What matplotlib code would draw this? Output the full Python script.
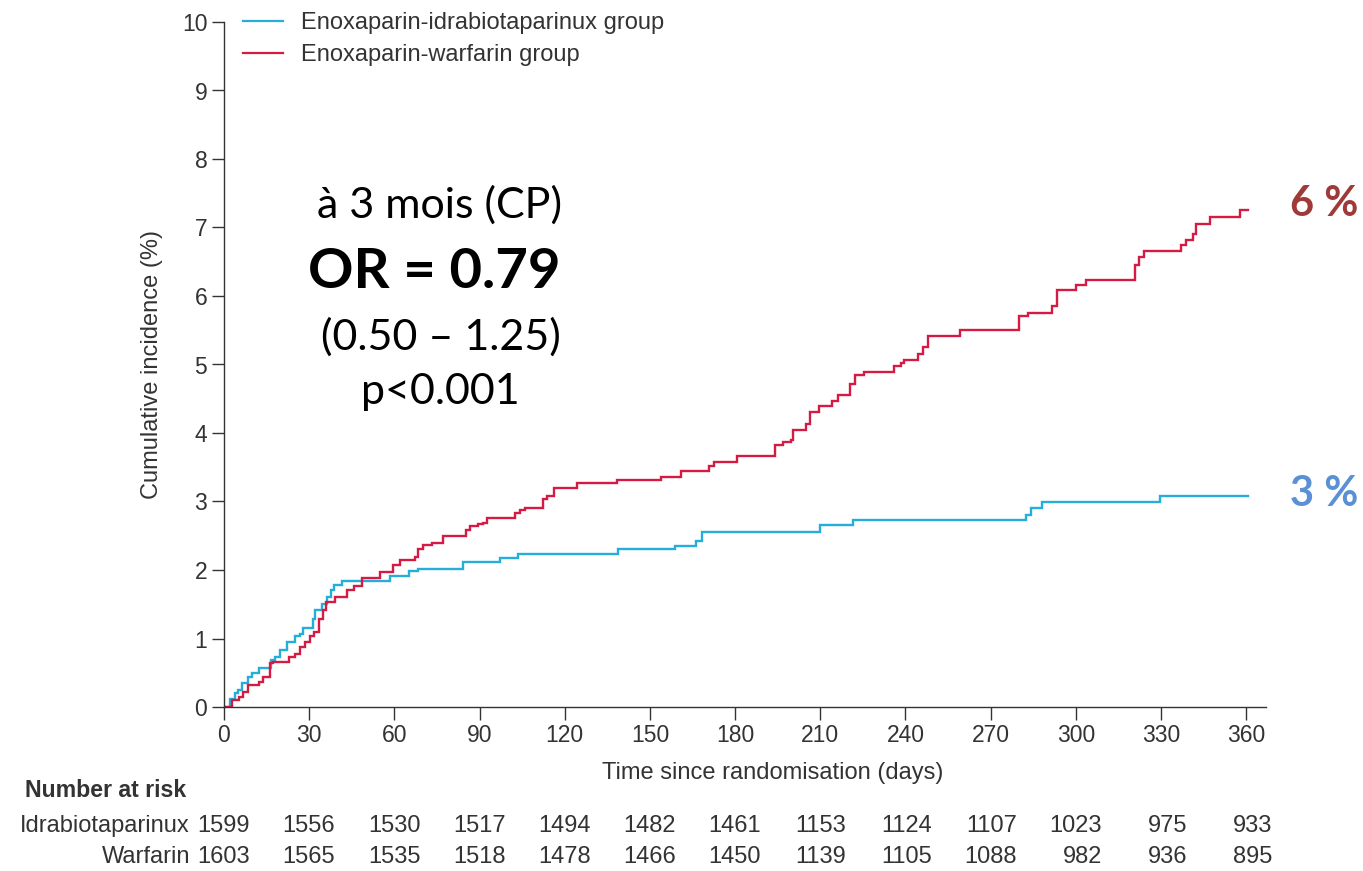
import matplotlib
matplotlib.use('Agg')
import matplotlib.pyplot as plt
from matplotlib import font_manager as fm
from matplotlib.lines import Line2D
import matplotlib.transforms as mtransforms

# ---------------- data ----------------
idra_days = [0, 2.1, 3.9, 5.0, 6.5, 8.6, 9.7, 12.4, 16.4, 18.0, 19.7, 22.3, 25.0, 26.8, 27.7,
             31.5, 32.0, 34.4, 36.2, 37.6, 38.7, 41.4, 58.5, 65.3, 68.4, 84.3, 97.2, 103.6,
             138.7, 159.0, 166.4, 168.3, 210.0, 221.6, 282.4, 284.2, 288.0, 329.6, 360.6]
idra_inc = [0, 0.12, 0.20, 0.25, 0.35, 0.44, 0.49, 0.57, 0.68, 0.73, 0.83, 0.95, 1.04, 1.07, 1.16,
            1.28, 1.42, 1.51, 1.61, 1.71, 1.78, 1.84, 1.91, 1.98, 2.01, 2.11, 2.17, 2.23,
            2.31, 2.35, 2.42, 2.55, 2.65, 2.73, 2.80, 2.91, 2.99, 3.08, 3.08]

warf_days = [0, 2.7, 5.4, 6.8, 8.6, 12.4, 13.8, 16.2, 17.4, 23.0, 25.0, 26.8, 28.5, 30.3, 31.7,
             33.6, 34.7, 35.9, 39.1, 43.2, 45.8, 48.7, 54.9, 59.6, 62.0, 67.3, 68.4, 70.0, 73.4,
             77.0, 85.4, 86.6, 89.3, 91.3, 92.5, 102.5, 104.2, 106.0, 112.4, 113.6, 116.2, 124.2,
             138.3, 153.8, 160.9, 170.9, 172.5, 180.6, 194.0, 197.0, 199.8, 200.5, 204.9, 206.3,
             209.5, 214.3, 216.3, 220.4, 222.2, 225.4, 235.9, 238.3, 239.4, 244.4, 246.2, 248.0,
             259.2, 280.0, 283.0, 291.7, 293.3, 300.2, 303.7, 321.0, 322.2, 324.1, 337.0, 338.8,
             341.3, 342.5, 347.4, 358.0, 360.6]
warf_inc = [0, 0.10, 0.15, 0.22, 0.32, 0.37, 0.44, 0.64, 0.66, 0.73, 0.77, 0.88, 0.95, 1.03, 1.10,
            1.29, 1.42, 1.54, 1.61, 1.71, 1.76, 1.88, 1.97, 2.07, 2.14, 2.19, 2.30, 2.36, 2.40,
            2.49, 2.59, 2.64, 2.67, 2.69, 2.76, 2.83, 2.87, 2.91, 3.03, 3.08, 3.19, 3.27,
            3.31, 3.36, 3.45, 3.52, 3.57, 3.67, 3.82, 3.87, 3.90, 4.05, 4.13, 4.30,
            4.40, 4.46, 4.56, 4.71, 4.84, 4.89, 4.98, 5.02, 5.07, 5.16, 5.25, 5.42,
            5.50, 5.71, 5.75, 5.86, 6.09, 6.16, 6.24, 6.45, 6.57, 6.65, 6.74, 6.82,
            6.90, 7.05, 7.15, 7.26, 7.26]

series_labels = ['Enoxaparin-idrabiotaparinux group', 'Enoxaparin-warfarin group']
x_ticks = [0, 30, 60, 90, 120, 150, 180, 210, 240, 270, 300, 330, 360]
y_ticks = [0, 1, 2, 3, 4, 5, 6, 7, 8, 9, 10]
risk_row_labels = ['Idrabiotaparinux', 'Warfarin']
risk_idra = [1599, 1556, 1530, 1517, 1494, 1482, 1461, 1153, 1124, 1107, 1023, 975, 933]
risk_warf = [1603, 1565, 1535, 1518, 1478, 1466, 1450, 1139, 1105, 1088, 982, 936, 895]
end_labels = ['3 %', '6 %']
annot_lines = ['à 3 mois (CP)', 'OR = 0.79', '(0.50 – 1.25)', 'p<0.001']

# ---------------- fonts ----------------
names = {f.name for f in fm.fontManager.ttflist}
NARROW = 'Liberation Sans Narrow' if 'Liberation Sans Narrow' in names else 'Liberation Sans'
ANN = 'Lato' if 'Lato' in names else 'DejaVu Sans'

CYAN = '#25AEDB'
RED = '#D51A43'
DARK = '#333333'
FS = 17

W, H = 1363, 871
fig = plt.figure(figsize=(W / 100, H / 100), dpi=100)
ax = fig.add_axes([224 / W, 164 / H, 1042 / W, 685 / H])

ax.step(idra_days, idra_inc, where='post', color=CYAN, lw=1.7, solid_joinstyle='miter')
ax.step(warf_days, warf_inc, where='post', color=RED, lw=1.7, solid_joinstyle='miter')

ax.set_xlim(0, 367)
ax.set_ylim(0, 10)
ax.set_xticks(x_ticks)
ax.set_yticks(y_ticks)
for s in ['top', 'right']:
    ax.spines[s].set_visible(False)
for s in ['left', 'bottom']:
    ax.spines[s].set_color(DARK)
    ax.spines[s].set_linewidth(1.0)
ax.tick_params(axis='both', direction='out', length=9, width=1.0, color=DARK,
               labelcolor=DARK, labelsize=16.5, pad=3)
for lab in ax.get_xticklabels() + ax.get_yticklabels():
    lab.set_fontfamily(NARROW)

ax.set_xlabel('Time since randomisation (days)', fontsize=FS, color=DARK,
              fontfamily=NARROW, va='center')
ax.xaxis.set_label_coords((773 - 224) / 1042, (707 - 773) / 685)
ax.set_ylabel('Cumulative incidence (%)', fontsize=FS, color=DARK,
              fontfamily=NARROW, va='center')
ax.yaxis.set_label_coords((152 - 224) / 1042, 0.5)

handles = [Line2D([], [], color=CYAN, lw=1.6), Line2D([], [], color=RED, lw=1.6)]
leg = ax.legend(handles, series_labels, loc='upper left',
                bbox_to_anchor=(243 / W, (H - 12) / H), bbox_transform=fig.transFigure,
                frameon=False, borderpad=0, borderaxespad=0, handlelength=1.7,
                handletextpad=0.76, labelspacing=0.42,
                prop={'family': NARROW, 'size': FS})
for t in leg.get_texts():
    t.set_color(DARK)

# Annotation block
ann_x = [440, 434, 441, 440]
ann_y = [205, 272, 337, 392]
ann_size = [31, 40.5, 31, 31]
ann_weight = ['normal', 'bold', 'normal', 'normal']
for txt, xx, yy, sz, wt in zip(annot_lines, ann_x, ann_y, ann_size, ann_weight):
    fig.text(xx / W, 1 - yy / H, txt, ha='center', va='center', fontsize=sz,
             fontweight=wt, fontfamily=ANN, color='black')

# End labels
fig.text(1290 / W, 1 - 494 / H, end_labels[0], ha='left', va='center', fontsize=30,
         fontweight='bold', fontfamily=ANN, color='#5A90D6')
fig.text(1290 / W, 1 - 204 / H, end_labels[1], ha='left', va='center', fontsize=30,
         fontweight='bold', fontfamily=ANN, color='#9E3A38')

# Number at risk table
tr = mtransforms.blended_transform_factory(ax.transData, fig.transFigure)
fig.text(25 / W, 1 - 790 / H, 'Number at risk', ha='left', va='center', fontsize=16.7,
         fontweight='bold', fontfamily=NARROW, color=DARK)
for row_lab, vals, yy in zip(risk_row_labels, [risk_idra, risk_warf], [826, 857]):
    fig.text(190 / W, 1 - yy / H, row_lab, ha='right', va='center', fontsize=FS,
             fontfamily=NARROW, color=DARK)
    for xt, v in zip(x_ticks, vals):
        ax.text(xt + 9.2, 1 - yy / H, str(v), transform=tr, ha='right', va='center',
                fontsize=FS, fontfamily=NARROW, color=DARK, clip_on=False)

fig.savefig('out.png', dpi=100)
